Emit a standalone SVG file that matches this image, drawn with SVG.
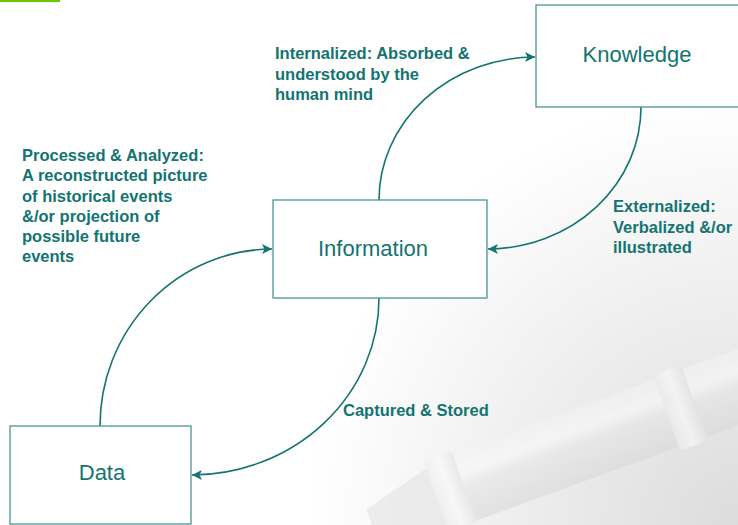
<svg xmlns="http://www.w3.org/2000/svg" width="738" height="525" viewBox="0 0 738 525">
<defs>
<style>
.box{fill:#ffffff;stroke:#4a9693;stroke-width:1.3}
.nl{font-family:"Liberation Sans",Arial,sans-serif;font-size:22px;fill:#137472;text-anchor:middle}
.lb{font-family:"Liberation Sans",Arial,sans-serif;font-size:16.5px;font-weight:bold;fill:#137472}
.cn{fill:none;stroke:#137472;stroke-width:1.6}
</style>
<marker id="ah" viewBox="0 0 10 10" refX="10" refY="5" markerWidth="10" markerHeight="10" markerUnits="userSpaceOnUse" orient="auto">
<path d="M0,0 L10,5 L0,10 L2.5,5 Z" fill="#137472"/>
</marker>
<radialGradient id="bg" cx="738" cy="525" r="430" gradientUnits="userSpaceOnUse">
<stop offset="0" stop-color="#dcdcdc"/>
<stop offset="0.55" stop-color="#efefef"/>
<stop offset="1" stop-color="#ffffff"/>
</radialGradient>
<linearGradient id="pen" x1="0" y1="0" x2="0" y2="1">
<stop offset="0" stop-color="#f2f2f2"/>
<stop offset="0.3" stop-color="#fafafa"/>
<stop offset="0.5" stop-color="#e6e6e6"/>
<stop offset="1" stop-color="#d9d9d9"/>
</linearGradient>
<linearGradient id="ring" x1="0" y1="0" x2="1" y2="0">
<stop offset="0" stop-color="#ececec"/>
<stop offset="0.5" stop-color="#fbfbfb"/>
<stop offset="1" stop-color="#e2e2e2"/>
</linearGradient>
</defs>
<rect width="738" height="525" fill="#ffffff"/>
<rect width="738" height="525" fill="url(#bg)"/>
<g id="background-pen" transform="translate(455,490) rotate(-20)" opacity="0.6">
<rect x="-20" y="-36" width="360" height="72" rx="8" fill="url(#pen)"/>
<rect x="-20" y="-38" width="30" height="76" rx="4" fill="url(#ring)"/>
<rect x="225" y="-40" width="30" height="80" rx="4" fill="url(#ring)"/>
<path d="M-20,-30 L-90,-12 L-90,12 L-20,30 Z" fill="#e4e4e4"/>
</g>
<rect x="0" y="0" width="60" height="2" fill="#66cc00"/>
<g id="connectors">
<path class="cn" d="M100,426 A173,177 0 0 1 272,249" marker-end="url(#ah)"/>
<path class="cn" d="M379,200 A157,143 0 0 1 535,57" marker-end="url(#ah)"/>
<path class="cn" d="M641,107 A154,142 0 0 1 488,249" marker-end="url(#ah)"/>
<path class="cn" d="M379,298 A188,177 0 0 1 192,475" marker-end="url(#ah)"/>
</g>
<g id="knowledge">
<rect class="box" x="536" y="5" width="210" height="102"/>
<text class="nl" x="637" y="62">Knowledge</text>
</g>
<g id="information">
<rect class="box" x="273" y="200" width="214" height="98"/>
<text class="nl" x="373" y="256">Information</text>
</g>
<g id="data">
<rect class="box" x="10" y="426" width="181" height="98"/>
<text class="nl" x="102" y="480">Data</text>
</g>
<g id="labels">
<text class="lb" x="275" y="59">Internalized: Absorbed &amp;<tspan x="275" y="79.5">understood by the</tspan><tspan x="275" y="100">human mind</tspan></text>
<text class="lb" x="22" y="161">Processed &amp; Analyzed:<tspan x="22" y="181">A reconstructed picture</tspan><tspan x="22" y="201.5">of historical events</tspan><tspan x="22" y="222">&amp;/or projection of</tspan><tspan x="22" y="242">possible future</tspan><tspan x="22" y="262">events</tspan></text>
<text class="lb" x="613" y="212">Externalized:<tspan x="613" y="232.5">Verbalized &amp;/or</tspan><tspan x="613" y="252.5">illustrated</tspan></text>
<text class="lb" x="343" y="416">Captured &amp; Stored</text>
</g>
</svg>
